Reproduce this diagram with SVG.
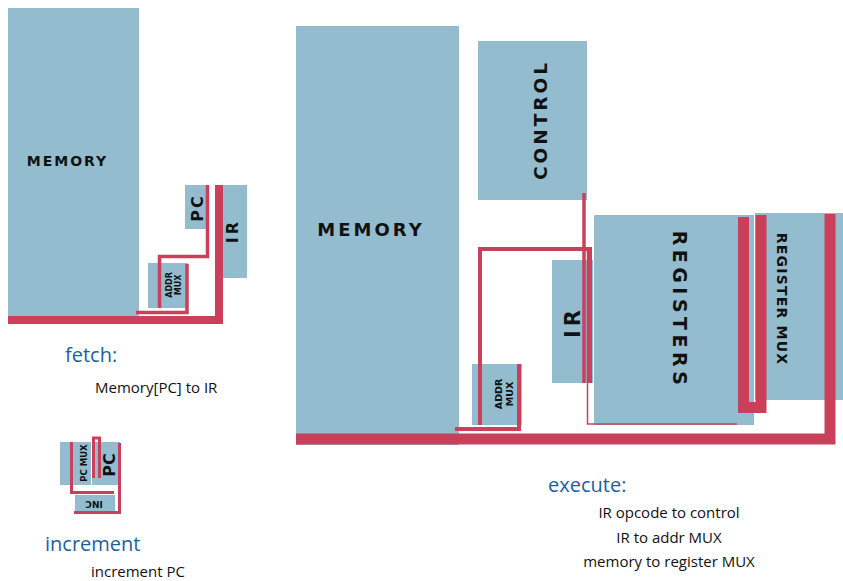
<svg xmlns="http://www.w3.org/2000/svg" width="843" height="581" viewBox="0 0 843 581">
<style>
.box{fill:#94bccf}
.wire{fill:none;stroke:#c8405a;stroke-linejoin:miter;stroke-linecap:butt}
.lbl{font-family:"DejaVu Sans",sans-serif;font-weight:bold;fill:#111;text-anchor:middle;dominant-baseline:central}
.title{font-family:"Open Sans","DejaVu Sans",sans-serif;font-size:20px;fill:#1d5f9e}
.note{font-family:"Open Sans","DejaVu Sans",sans-serif;font-size:15px;fill:#111}
</style>
<rect width="843" height="581" fill="#fff"/>

<!-- fetch -->
<g id="fetch-memory"><rect class="box" x="8" y="8" width="131" height="316"/><text class="lbl" x="67.5" y="161" font-size="14" letter-spacing="2">MEMORY</text></g>
<g id="fetch-pc"><rect class="box" x="185" y="185" width="22" height="44"/><text class="lbl" transform="translate(197.5,208) rotate(-90)" font-size="16" letter-spacing="2">PC</text></g>
<g id="fetch-ir"><rect class="box" x="215" y="185" width="32" height="93"/><text class="lbl" transform="translate(232,231) rotate(-90)" font-size="16" letter-spacing="3">IR</text></g>
<g id="fetch-addrmux"><rect class="box" x="148" y="263" width="40" height="45"/><text class="lbl" transform="translate(173,285) rotate(-90)" font-size="8"><tspan x="0" dy="-4.5">ADDR</tspan><tspan x="0" dy="9">MUX</tspan></text></g>

<!-- increment -->
<g id="inc-pcmux"><rect class="box" x="60" y="442" width="31" height="43"/><text class="lbl" transform="translate(84,463) rotate(-90)" font-size="8.5">PC MUX</text></g>
<g id="inc-pc"><rect class="box" x="92" y="442" width="28" height="43"/><text class="lbl" transform="translate(109,465) rotate(-90)" font-size="16">PC</text></g>
<g id="inc-inc"><rect class="box" x="75" y="495" width="40" height="17"/><text class="lbl" transform="translate(94,503.5) rotate(180)" font-size="9">INC</text></g>

<!-- execute -->
<g id="exec-memory"><rect class="box" x="296" y="26" width="163" height="419"/><text class="lbl" x="371" y="229" font-size="18" letter-spacing="3">MEMORY</text></g>
<g id="exec-control"><rect class="box" x="478" y="41" width="109" height="159"/><text class="lbl" transform="translate(540,120) rotate(-90)" font-size="18.5" letter-spacing="3">CONTROL</text></g>
<g id="exec-ir"><rect class="box" x="552" y="260" width="41" height="123"/><text class="lbl" transform="translate(573,322) rotate(-90)" font-size="21" letter-spacing="4">IR</text></g>
<g id="exec-addrmux"><rect class="box" x="472" y="364" width="50" height="61"/><text class="lbl" transform="translate(503,394) rotate(-90)" font-size="9.5"><tspan x="0" dy="-5.5">ADDR</tspan><tspan x="0" dy="11">MUX</tspan></text></g>
<g id="exec-registers"><rect class="box" x="594" y="215" width="160" height="210"/><text class="lbl" transform="translate(680,310) rotate(90)" font-size="19" letter-spacing="4.5">REGISTERS</text></g>
<g id="exec-regmux"><rect class="box" x="755" y="213" width="88" height="187"/><text class="lbl" transform="translate(782,299) rotate(90)" font-size="14" letter-spacing="1.2">REGISTER MUX</text></g>

<g id="connectors">
<path class="wire" stroke-width="8" d="M8 320H219V185"/>
<path class="wire" stroke-width="3.5" d="M207.5 185V256.5H159.5V308"/>
<path class="wire" stroke-width="3.5" d="M187 264V312.5H136"/>

<path class="wire" stroke-width="3" d="M71.5 442V492.5H114"/>
<path class="wire" stroke-width="3" d="M119.5 443V512.5H74"/>
<path class="wire" stroke-width="3" d="M93.5 478V438H99.5V478"/>

<path class="wire" stroke-width="11" d="M296 439H830V214"/>
<path class="wire" stroke-width="4" d="M455 429H519V364"/>
<path class="wire" stroke-width="4" d="M480 425V249H590V383"/>
<path class="wire" stroke-width="3.5" d="M584 193V383"/>
<path class="wire" stroke-width="1.5" d="M587.5 250V424H737"/>
<path class="wire" stroke-width="11" d="M743.5 217V407.5H761V215"/>
</g>

<text class="title" x="65" y="362" font-size="21">fetch:</text>
<text class="note" x="95" y="393">Memory[PC] to IR</text>
<text class="title" x="45" y="551">increment</text>
<text class="note" x="91" y="577">increment PC</text>
<text class="title" x="548" y="492">execute:</text>
<text class="note" x="669" y="518" text-anchor="middle">IR opcode to control</text>
<text class="note" x="669" y="543" text-anchor="middle">IR to addr MUX</text>
<text class="note" x="669" y="567" text-anchor="middle">memory to register MUX</text>
</svg>
